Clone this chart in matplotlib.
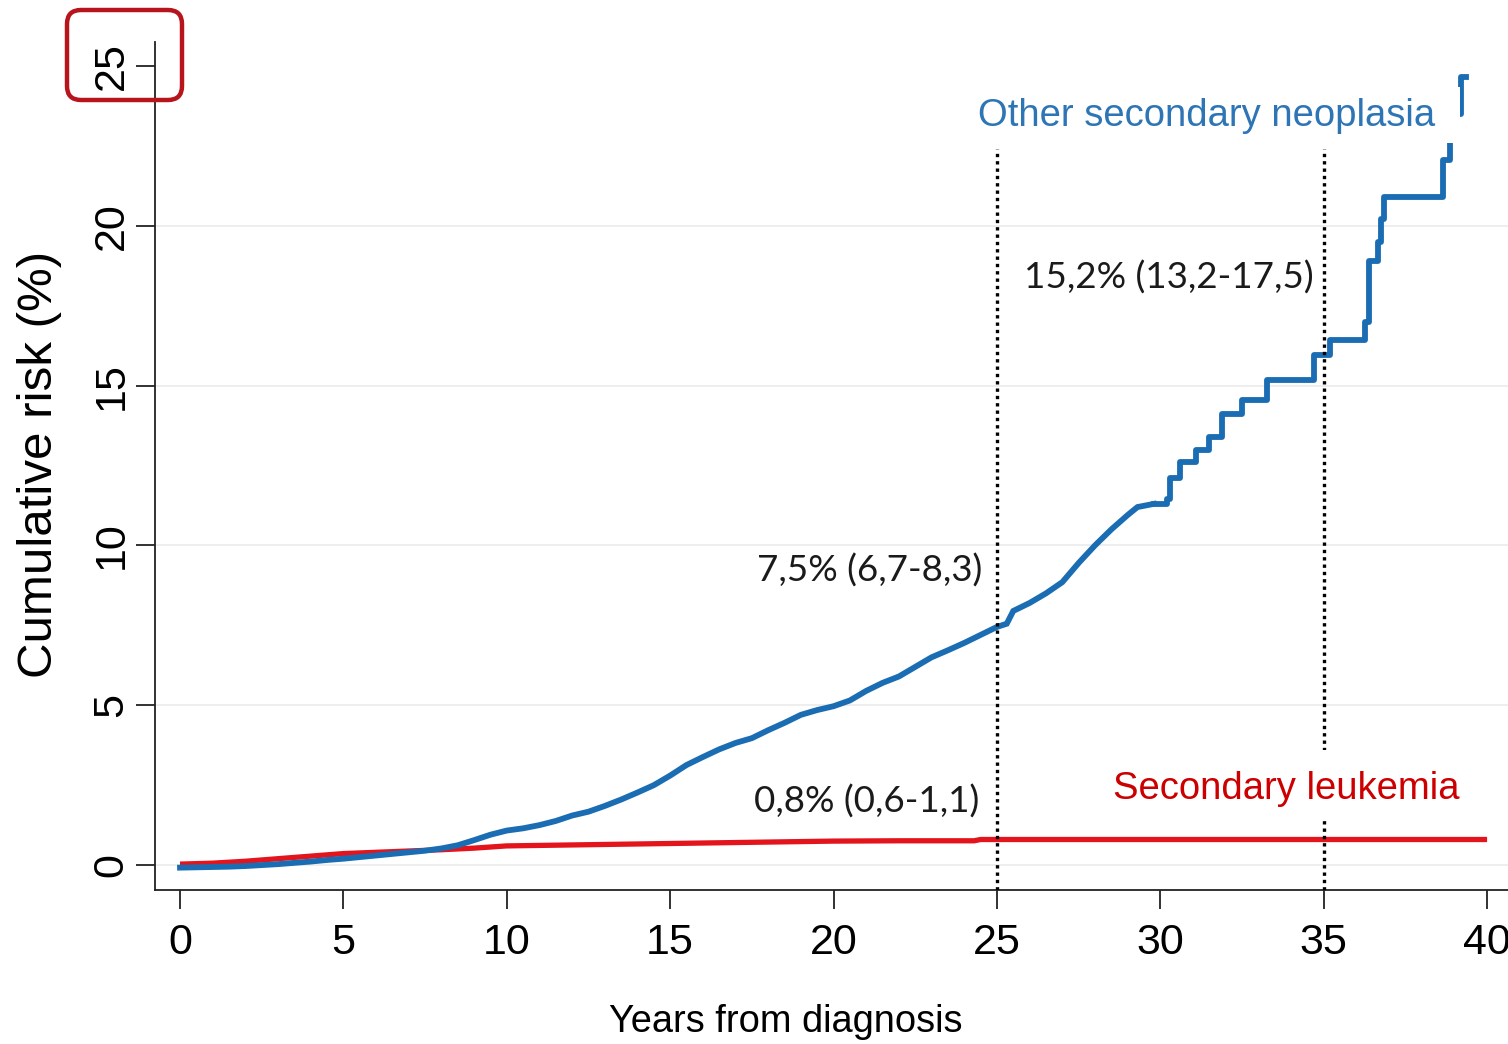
import numpy as np
import matplotlib.pyplot as plt
from matplotlib.patches import FancyBboxPatch, Rectangle

# Cumulative incidence, other secondary neoplasia: dense early part
neo_years = [0, 0.5, 1, 1.5, 2, 2.5, 3, 3.5, 4, 4.5, 5, 5.5, 6, 6.5, 7, 7.5, 8, 8.5, 9, 9.5,
             10, 10.5, 11, 11.5, 12, 12.5, 13, 13.5, 14, 14.5, 15, 15.5, 16, 16.5, 17, 17.5,
             18, 18.5, 19, 19.5, 20, 20.5, 21, 21.5, 22, 22.5, 23, 23.5, 24, 24.5, 25, 25.3,
             25.5, 26, 26.5, 27, 27.5, 28, 28.5, 29, 29.3, 29.8]
neo_risk = [-0.08, -0.07, -0.06, -0.05, -0.03, 0.0, 0.03, 0.07, 0.11, 0.16, 0.2, 0.25, 0.3,
            0.35, 0.4, 0.45, 0.52, 0.62, 0.78, 0.95, 1.08, 1.15, 1.25, 1.38, 1.55, 1.67, 1.85,
            2.05, 2.27, 2.5, 2.8, 3.13, 3.38, 3.62, 3.82, 3.97, 4.22, 4.45, 4.7, 4.85, 4.97,
            5.15, 5.45, 5.7, 5.9, 6.2, 6.5, 6.72, 6.95, 7.2, 7.45, 7.55, 7.95, 8.2, 8.5, 8.85,
            9.45, 10.0, 10.5, 10.95, 11.2, 11.3]

# late part, where individual steps are visible
neo_step_years = [29.8, 30.2, 30.3, 30.6, 31.1, 31.5, 31.9, 32.5, 33.25,
                  34.7, 35.2, 36.25, 36.4, 36.65, 36.75, 36.85, 38.65, 38.85, 39.2, 39.35]
neo_step_risk = [11.3, 11.45, 12.1, 12.6, 13.0, 13.4, 14.1, 14.55,
                 15.18, 15.95, 16.43, 17.0, 18.9, 19.5, 20.2, 20.9, 22.06, 23.5, 24.65, 24.65]

# Cumulative incidence, secondary leukemia
leuk_years = [0, 1, 2, 3, 4, 5, 6, 7, 8, 9, 10, 12, 14, 16, 18, 20, 22, 24.3, 24.5, 40]
leuk_risk = [0.03, 0.06, 0.12, 0.2, 0.28, 0.36, 0.4, 0.44, 0.48, 0.53, 0.6, 0.63, 0.66,
             0.69, 0.72, 0.75, 0.76, 0.76, 0.8, 0.8]

x_ticks = [0, 5, 10, 15, 20, 25, 30, 35, 40]
y_ticks = [0, 5, 10, 15, 20, 25]
cut_years = [25, 35]
labels_ci = ['7,5% (6,7-8,3)', '15,2% (13,2-17,5)', '0,8% (0,6-1,1)']

blue = '#1b6db3'
red = '#e3141c'
tick_font = ['Liberation Sans Narrow', 'Liberation Sans', 'DejaVu Sans']
plt.rcParams['font.family'] = ['Liberation Sans', 'DejaVu Sans']

fig = plt.figure(figsize=(15.08, 10.44), dpi=100)
ax = fig.add_axes([0.1028, 0.1475, 0.8972, 0.8123])

ax.set_xlim(-0.765, 40.64)
ax.set_ylim(-0.78, 25.75)

for g in [0, 5, 10, 15, 20]:
    ax.axhline(g, color='#ebebeb', lw=1.2, zorder=0)

ax.plot(leuk_years, leuk_risk, color=red, lw=3.8, zorder=3, solid_capstyle='butt')
ax.plot(neo_years, neo_risk, color=blue, lw=4.2, zorder=4, solid_joinstyle='miter')
ax.plot(neo_step_years, neo_step_risk, color=blue, lw=4.2, drawstyle='steps-post', zorder=4)

for c in cut_years:
    ax.plot([c, c], [-0.78, 22.4], color='black', lw=2.4, linestyle=(0, (1, 1.2)), zorder=5)

# white boxes behind the series labels
ax.add_patch(Rectangle((24.17, 22.59), 39.18 - 24.17, 1.75, facecolor='white',
                       edgecolor='none', zorder=6))
ax.add_patch(Rectangle((28.3, 1.41), 13.0, 2.2, facecolor='white',
                       edgecolor='none', zorder=6, clip_on=True))

ax.text(31.4, 23.43, 'Other secondary neoplasia', color='#2e75b6', fontsize=27.5,
        ha='center', va='center', zorder=7)
ax.text(33.85, 2.38, 'Secondary leukemia', color='#cc0000', fontsize=27.5,
        ha='center', va='center', zorder=7)

ci_font = ['Lato', 'DejaVu Sans']
ax.text(21.1, 9.2, labels_ci[0], fontsize=26.5, ha='center', va='center',
        family=ci_font, color='#1a1a1a', zorder=7)
ax.text(30.25, 18.37, labels_ci[1], fontsize=26.5, ha='center', va='center',
        family=ci_font, color='#1a1a1a', zorder=7)
ax.text(21.0, 2.0, labels_ci[2], fontsize=26.5, ha='center', va='center',
        family=ci_font, color='#1a1a1a', zorder=7)

ax.spines['top'].set_visible(False)
ax.spines['right'].set_visible(False)
for s in ['left', 'bottom']:
    ax.spines[s].set_linewidth(1.3)
    ax.spines[s].set_color('#222222')

ax.set_xticks(x_ticks)
ax.set_yticks(y_ticks)
ax.set_xticklabels([str(t) for t in x_ticks], family=tick_font, fontsize=31)
ax.set_yticklabels([str(t) for t in y_ticks], family=tick_font, fontsize=31,
                   rotation=90, va='center')
ax.tick_params(axis='both', length=14, width=1.3, color='#222222')
ax.tick_params(axis='x', pad=10)
ax.tick_params(axis='y', pad=3)

fig.text(40 / 1508, 1 - 464 / 1044, 'Cumulative risk (%)', rotation=90, fontsize=35.5,
         ha='center', va='center')
fig.text(786 / 1508, 1 - 1022 / 1044, 'Years from diagnosis', fontsize=27.4,
         ha='center', va='center')

# highlight around the top y tick
box = FancyBboxPatch((0.67, 10.44 - 1.00), 1.15, 0.90,
                     boxstyle='round,pad=0,rounding_size=0.14',
                     transform=fig.dpi_scale_trans, facecolor='none',
                     edgecolor='#b8141c', lw=3.2, zorder=10)
fig.patches.append(box)

fig.savefig('out.png', dpi=100)
